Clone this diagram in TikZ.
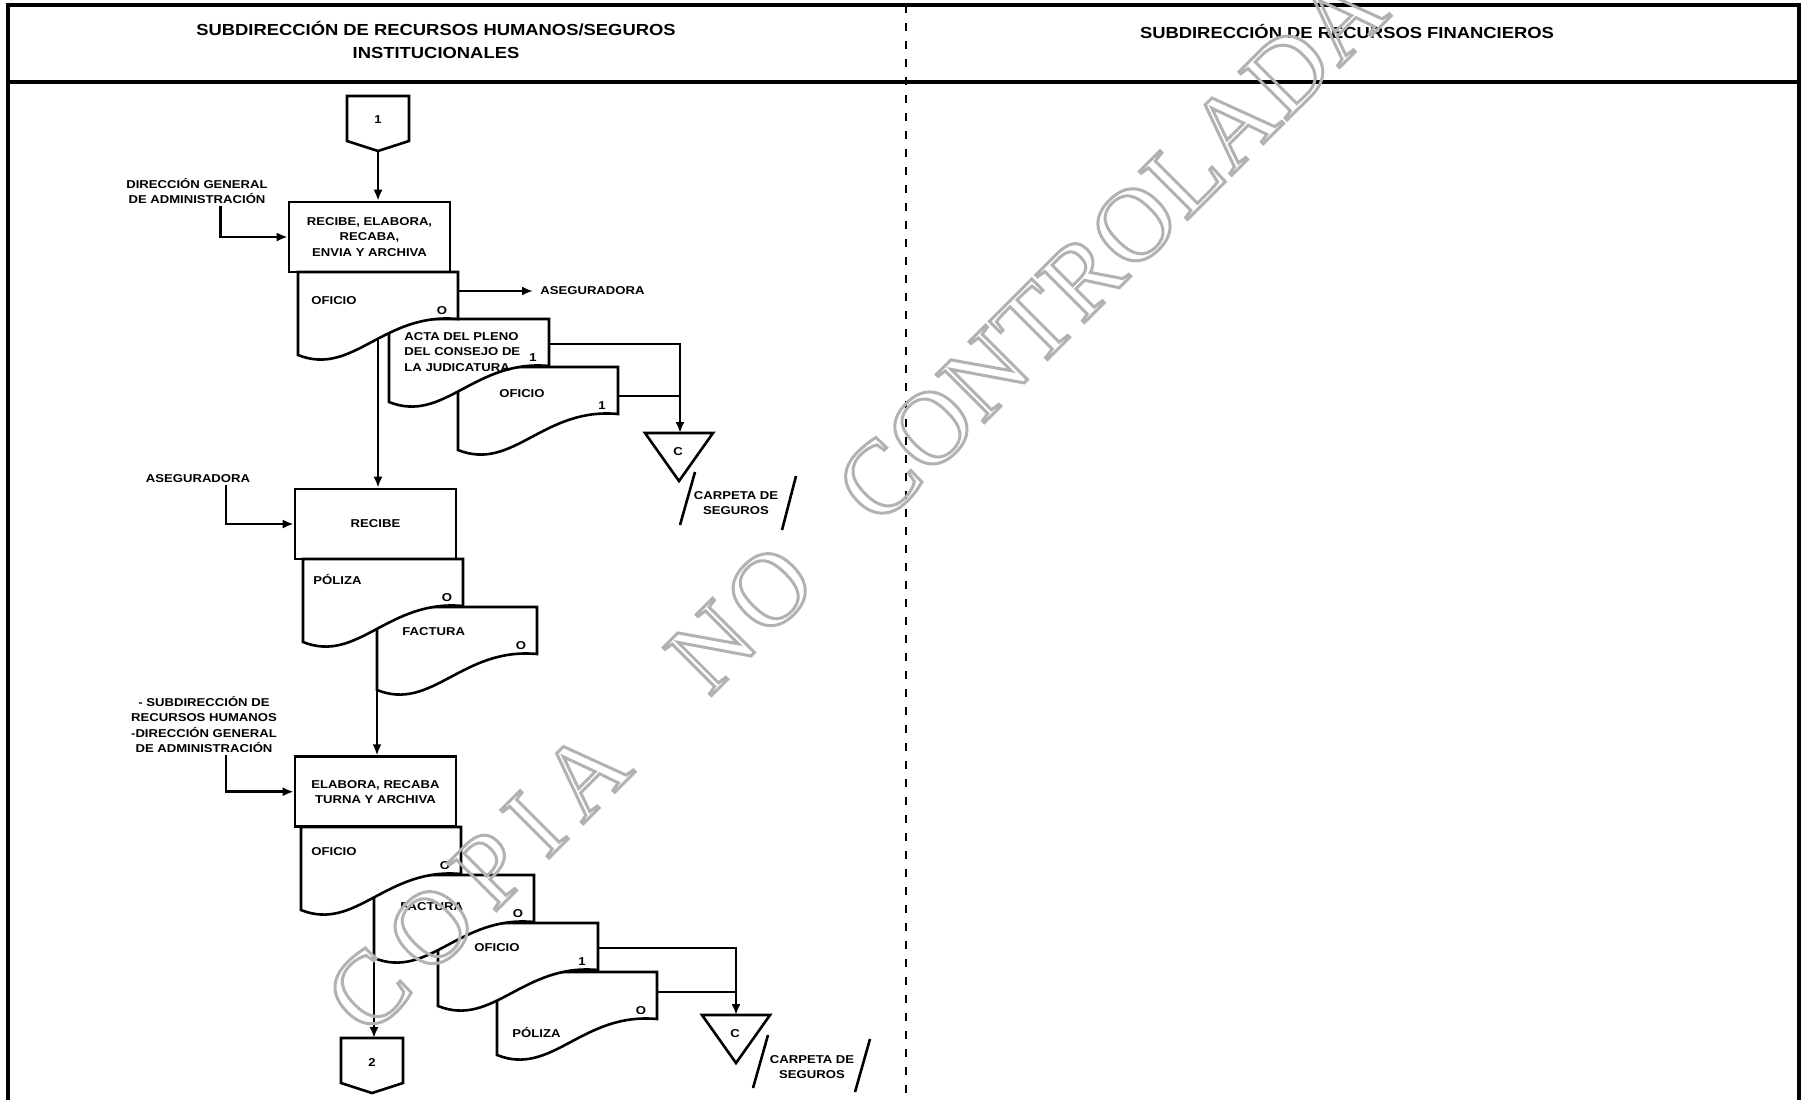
\documentclass[tikz,border=0pt]{standalone}
\usepackage{fontspec}
\setmainfont{Liberation Sans}[FakeStretch=1.15]
\newfontfamily\wmfont{Liberation Serif}[LetterSpace=6]
\usetikzlibrary{arrows.meta,calc}
\definecolor{wmgray}{gray}{0.7}
\tikzset{
  frame/.style={line width=1.6pt},
  flow/.style={line width=1.3pt},
  lbl/.style={font=\fontsize{5.7}{7.6}\selectfont\bfseries,align=center,inner sep=1pt},
  docmark/.style={lbl},
  proc/.style={lbl,draw,flow,fill=white,minimum width=80.5pt,minimum height=35pt},
}
% documento: nombre, esquina superior izquierda, marca
\newcommand{\docu}[4]{%
  \draw[flow,fill=white] (#2,#3) coordinate (#1) -- ++(160,0) -- ++(0,47)
    .. controls +(-75,-7) and +(55,22) .. ++(-160,36) -- cycle;
  \node[docmark] (#1-m) at (#2+144,#3+39) {#4};
}
% conector fuera de pagina: nombre, centro x, arriba y, texto
\newcommand{\offpage}[4]{%
  \draw[flow,fill=white] (#2-31,#3) coordinate (#1-n) -- (#2+31,#3) -- (#2+31,#3+45)
    -- (#2,#3+55) coordinate (#1-s) -- (#2-31,#3+45) -- cycle;
  \node[lbl] (#1) at (#2,#3+24) {#4};
}
% archivo: nombre, centro x, arriba y
\newcommand{\carpeta}[3]{%
  \draw[flow,fill=white] (#2-34,#3) -- (#2+34,#3) -- (#2,#3+48) -- cycle;
  \node[lbl] (#1) at (#2-1,#3+19) {C};
}
% texto solo con contorno
\newcommand{\hueco}[1]{\special{pdf:literal direct 1 Tr}#1\special{pdf:literal direct 0 Tr}}
\begin{document}
\begin{tikzpicture}[x=0.5pt,y=-0.5pt,>={Latex[length=5.5pt,width=4.5pt]}]
	\useasboundingbox (0,0) rectangle (1802,1100);
	% marco y encabezados
	\draw[frame] (8,1100) -- (8,5) -- (1799,5) -- (1799,1100);
	\draw[frame] (8,82) -- (1799,82);
	\draw[line width=1pt,dash pattern=on 4pt off 5pt] (906,5) -- (906,1100);
	\node[lbl,font=\fontsize{8}{11.5}\selectfont\bfseries] (h1) at (436,39.5) {SUBDIRECCIÓN DE RECURSOS HUMANOS/SEGUROS\\INSTITUCIONALES};
	\node[lbl,font=\fontsize{8}{11.5}\selectfont\bfseries] (h2) at (1347,31) {SUBDIRECCIÓN DE RECURSOS FINANCIEROS};
	% paso 1
	\offpage{con1}{378}{96}{1}
	\node[proc] (rec1) at (369.5,237) {RECIBE, ELABORA,\\RECABA,\\ENVIA Y ARCHIVA};
	\docu{d3}{458}{367}{1}
	\docu{d2}{389}{319}{1}
	\docu{d1}{298}{272}{O}
	\node[lbl,anchor=west] (t1) at (309,301) {OFICIO};
	\node[lbl,anchor=west,align=left] (t2) at (402,352) {ACTA DEL PLENO\\DEL CONSEJO DE\\LA JUDICATURA};
	\node[lbl,anchor=west] (t3) at (497,394) {OFICIO};
	\node[lbl] (in1) at (197,191) {DIRECCIÓN GENERAL\\DE ADMINISTRACIÓN};
	\node[lbl,anchor=west] (as1) at (538,291) {ASEGURADORA};
	\draw[flow,->] (con1-s) -- (con1-s |- rec1.north);
	\draw[flow,->] ([xshift=11.75pt]in1.south) |- (rec1.west);
	\coordinate (d1-e) at (458,291);
	\draw[flow,->,shorten >=2.5pt] (d1-e) -- (as1.west);
	\coordinate (d2-e) at (549,344);
	\coordinate (d3-e) at (618,396);
	\coordinate (cp1-n) at (680,433);
	\draw[flow,->] (d2-e) -| (cp1-n);
	\draw[flow] (d3-e) -- (d3-e -| cp1-n);
	\carpeta{cp1}{679}{433}
	\node[lbl] (cs1) at (736,503) {CARPETA DE\\SEGUROS};
	\draw[flow] (680,525) -- (695,472) (782,530) -- (796,476);
	% paso 2
	\coordinate (d1-s) at (378,339);
	\node[proc] (rec2) at (375.5,524) {RECIBE};
	\draw[flow,->] (d1-s) -- (d1-s |- rec2.north);
	\node[lbl] (in2) at (198,479) {ASEGURADORA};
	\draw[flow,->] ([xshift=14pt]in2.south) |- (rec2.west);
	\docu{d5}{377}{607}{O}
	\docu{d4}{303}{559}{O}
	\node[lbl,anchor=west] (t4) at (311,579) {PÓLIZA};
	\node[lbl,anchor=west] (t5) at (400,632) {FACTURA};
	% paso 3
	\coordinate (d4-s) at (377,629);
	\node[proc] (rec3) at (375.5,791.7) {ELABORA, RECABA\\TURNA Y ARCHIVA};
	\draw[flow,->] (d4-s) -- (d4-s |- rec3.north);
	\node[lbl] (in3) at (204,724.5) {- SUBDIRECCIÓN DE\\RECURSOS HUMANOS\\-DIRECCIÓN GENERAL\\DE ADMINISTRACIÓN};
	\draw[flow,->] ([xshift=11pt]in3.south) |- (rec3.west);
	\docu{d9}{497}{972}{O}
	\docu{d8}{438}{923}{1}
	\docu{d7}{374}{875}{O}
	\docu{d6}{301}{827}{O}
	\node[lbl,anchor=west] (t6) at (309,852) {OFICIO};
	\node[lbl,anchor=west] (t7) at (398,907) {FACTURA};
	\node[lbl,anchor=west] (t8) at (472,948) {OFICIO};
	\node[lbl,anchor=west] (t9) at (510,1032) {PÓLIZA};
	\coordinate (d6-s) at (374,898);
	\offpage{con2}{372}{1038}{2}
	\draw[flow,->] (d6-s) -- (d6-s |- con2-n);
	\coordinate (d8-e) at (598,948);
	\coordinate (d9-e) at (657,992);
	\coordinate (cp2-n) at (736,1015);
	\draw[flow,->] (d8-e) -| (cp2-n);
	\draw[flow] (d9-e) -- (d9-e -| cp2-n);
	\carpeta{cp2}{736}{1015}
	\node[lbl] (cs2) at (812,1067) {CARPETA DE\\SEGUROS};
	\draw[flow] (753,1088) -- (768,1035) (855,1092) -- (870,1039);
	% marca de agua
	\node[rotate=45,text=wmgray,line width=1.5pt,font=\wmfont\fontsize{52}{52}\selectfont] (wm) at (856,503)
	  {\hueco{{\addfontfeature{LetterSpace=16}COPIA}\hspace{1em}NO\hspace{0.8em}{\addfontfeature{LetterSpace=1}CONTROLADA}}};
\end{tikzpicture}
\end{document}
